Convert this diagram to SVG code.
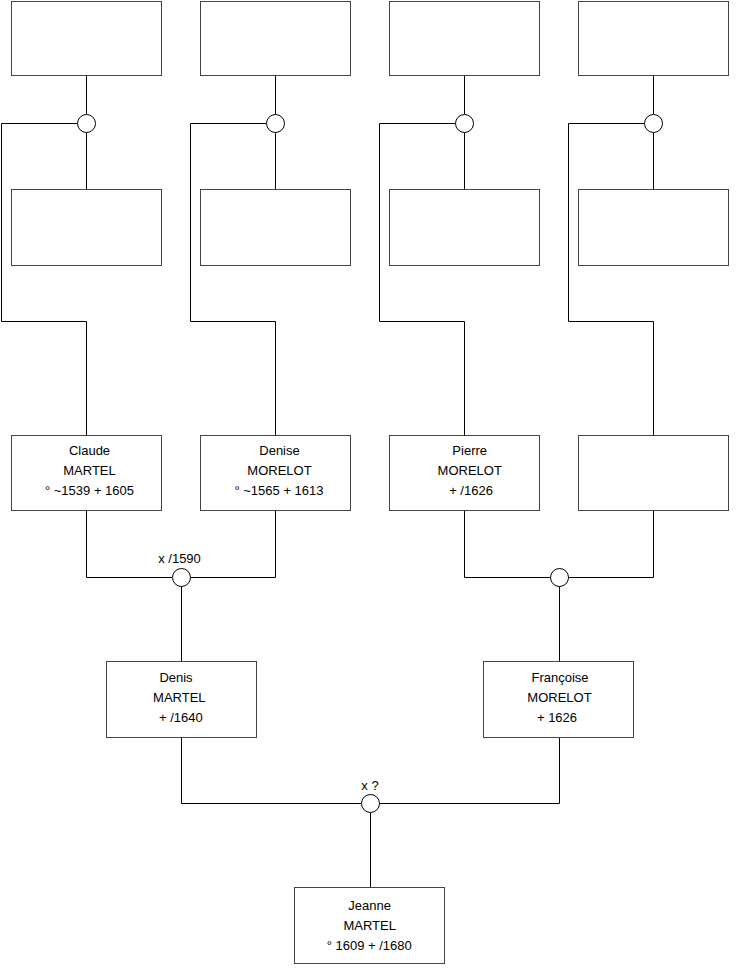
<svg xmlns="http://www.w3.org/2000/svg" width="740" height="975" viewBox="0 0 740 975">
<style>
.box{fill:#fff;stroke:#444;stroke-width:1}
.ln{fill:none;stroke:#000;stroke-width:1}
.jn{fill:#fff;stroke:#000;stroke-width:1}
text{font-family:"Liberation Sans",Arial,sans-serif;font-size:13px;fill:#000;text-anchor:middle}
</style>
<rect width="740" height="975" fill="#fff"/>
<g id="connectors">
<path class="ln" d="M86.5 75.5V114M86.5 132V189.5M77.5 123.5H1.5V321.5H86.5V435.5"/>
<path class="ln" d="M275.5 75.5V114M275.5 132V189.5M266.5 123.5H190.5V321.5H275.5V435.5"/>
<path class="ln" d="M464.5 75.5V114M464.5 132V189.5M455.5 123.5H379.5V321.5H464.5V435.5"/>
<path class="ln" d="M653.5 75.5V114M653.5 132V189.5M644.5 123.5H568.5V321.5H653.5V435.5"/>
<path class="ln" d="M86.5 510.5V577.5H172M190 577.5H275.5V510.5M181.5 586V661.5"/>
<path class="ln" d="M464.5 510.5V577.5H550M568 577.5H653.5V510.5M559.5 586V661.5"/>
<path class="ln" d="M181.5 737.5V803.5H361M379 803.5H559.5V737.5M370.5 812V887.5"/>
</g>
<g id="j1"><circle class="jn" cx="86.5" cy="123.5" r="9"/></g>
<g id="j2"><circle class="jn" cx="275.5" cy="123.5" r="9"/></g>
<g id="j3"><circle class="jn" cx="464.5" cy="123.5" r="9"/></g>
<g id="j4"><circle class="jn" cx="653.5" cy="123.5" r="9"/></g>
<g id="j5"><circle class="jn" cx="181.5" cy="577.5" r="9"/><text x="179.5" y="563">x /1590</text></g>
<g id="j6"><circle class="jn" cx="559.5" cy="577.5" r="9"/></g>
<g id="j7"><circle class="jn" cx="370.5" cy="803.5" r="9"/><text x="370" y="790">x ?</text></g>
<g id="n1"><rect class="box" x="11.5" y="1.5" width="150" height="74"/></g>
<g id="n2"><rect class="box" x="200.5" y="1.5" width="150" height="74"/></g>
<g id="n3"><rect class="box" x="389.5" y="1.5" width="150" height="74"/></g>
<g id="n4"><rect class="box" x="578.5" y="1.5" width="150" height="74"/></g>
<g id="n5"><rect class="box" x="11.5" y="189.5" width="150" height="76"/></g>
<g id="n6"><rect class="box" x="200.5" y="189.5" width="150" height="76"/></g>
<g id="n7"><rect class="box" x="389.5" y="189.5" width="150" height="76"/></g>
<g id="n8"><rect class="box" x="578.5" y="189.5" width="150" height="76"/></g>
<g id="claude"><rect class="box" x="11.5" y="435.5" width="150" height="75"/><text x="89.5" y="455">Claude</text><text x="89.5" y="475">MARTEL</text><text x="89.5" y="495">° ~1539 + 1605</text></g>
<g id="denise"><rect class="box" x="200.5" y="435.5" width="150" height="75"/><text x="279.5" y="455">Denise</text><text x="279.5" y="475">MORELOT</text><text x="279" y="495">° ~1565 + 1613</text></g>
<g id="pierre"><rect class="box" x="389.5" y="435.5" width="150" height="75"/><text x="469.7" y="455">Pierre</text><text x="469.7" y="475">MORELOT</text><text x="471" y="495">+ /1626</text></g>
<g id="n12"><rect class="box" x="578.5" y="435.5" width="150" height="75"/></g>
<g id="denis"><rect class="box" x="106.5" y="661.5" width="150" height="76"/><text x="176" y="682">Denis</text><text x="179.3" y="702">MARTEL</text><text x="180.8" y="722">+ /1640</text></g>
<g id="francoise"><rect class="box" x="483.5" y="661.5" width="150" height="76"/><text x="560" y="682">Françoise</text><text x="559.5" y="702">MORELOT</text><text x="557" y="722">+ 1626</text></g>
<g id="jeanne"><rect class="box" x="294.5" y="887.5" width="150" height="76"/><text x="369.7" y="910">Jeanne</text><text x="369.7" y="930">MARTEL</text><text x="369.2" y="950">° 1609 + /1680</text></g>
</svg>
